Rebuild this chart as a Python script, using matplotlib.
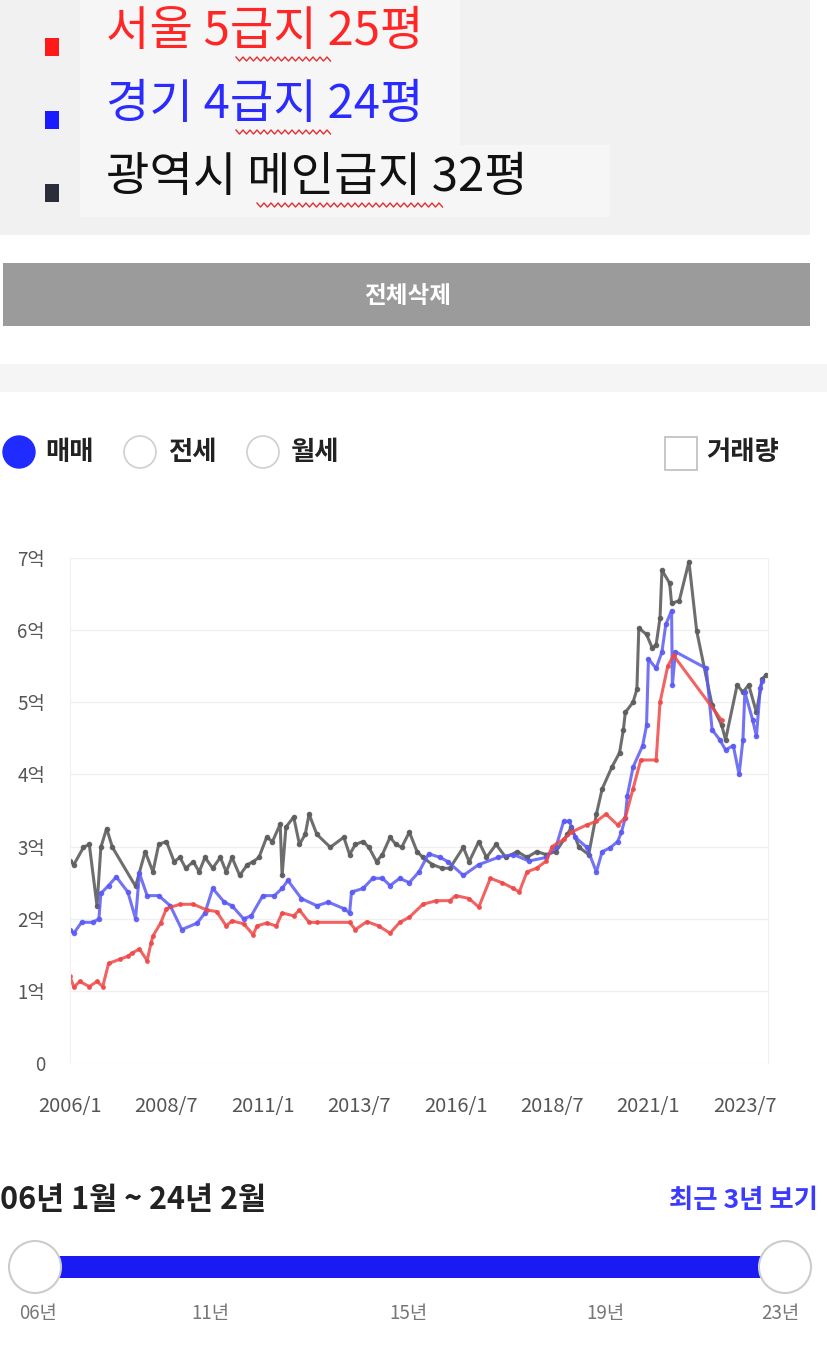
import numpy as np
import matplotlib
matplotlib.use("Agg")
import matplotlib.pyplot as plt
from matplotlib.patches import Rectangle, Circle

plt.rcParams['font.family'] = ['Noto Sans CJK KR', 'DejaVu Sans']

W, H = 827, 1360

# 서울 5급지 25평 (억)
seoul_t = [2006.0, 2006.1, 2006.25, 2006.5, 2006.7, 2006.85, 2007.0, 2007.3,
           2007.5, 2007.6, 2007.8, 2008.0, 2008.1, 2008.15, 2008.35, 2008.5,
           2008.85, 2009.2, 2009.55, 2009.8, 2010.05, 2010.2, 2010.5, 2010.75,
           2010.85, 2011.1, 2011.35, 2011.5, 2011.8, 2011.95, 2012.2, 2012.4,
           2013.25, 2013.4, 2013.7, 2014.0, 2014.3, 2014.55, 2014.8, 2015.15,
           2015.5, 2015.85, 2016.0, 2016.35, 2016.6, 2016.9, 2017.2, 2017.5,
           2017.65, 2017.85, 2018.1, 2018.35, 2018.5, 2018.8, 2019.0, 2019.4,
           2019.65, 2019.9, 2020.2, 2020.4, 2020.6, 2020.8, 2021.2, 2021.3,
           2021.5, 2021.65, 2022.9]
seoul_v = [1.2, 1.05, 1.13, 1.06, 1.13, 1.06, 1.38, 1.44,
           1.48, 1.52, 1.58, 1.42, 1.66, 1.76, 1.94, 2.14,
           2.2, 2.2, 2.12, 2.1, 1.9, 1.97, 1.93, 1.78,
           1.9, 1.94, 1.9, 2.08, 2.04, 2.12, 1.95, 1.95,
           1.95, 1.85, 1.96, 1.9, 1.8, 1.95, 2.02, 2.2,
           2.25, 2.25, 2.32, 2.28, 2.16, 2.56, 2.5, 2.42,
           2.37, 2.65, 2.7, 2.8, 3.0, 3.1, 3.2, 3.3,
           3.35, 3.45, 3.3, 3.4, 3.8, 4.2, 4.2, 5.0,
           5.5, 5.65, 4.75]

# 경기 4급지 24평 (억)
gyeonggi_t = [2006.0, 2006.1, 2006.3, 2006.6, 2006.75, 2006.8, 2007.0, 2007.2,
              2007.5, 2007.7, 2007.8, 2008.0, 2008.3, 2008.6, 2008.9, 2009.3,
              2009.5, 2009.7, 2010.0, 2010.2, 2010.5, 2010.7, 2011.0, 2011.3,
              2011.5, 2011.65, 2012.0, 2012.4, 2012.7, 2013.1, 2013.25, 2013.3,
              2013.6, 2013.85, 2014.1, 2014.3, 2014.55, 2014.8, 2015.05, 2015.3,
              2015.6, 2015.8, 2016.2, 2016.6, 2017.1, 2017.5, 2017.9, 2018.35,
              2018.6, 2018.8, 2018.95, 2019.1, 2019.4, 2019.65, 2019.8, 2020.0,
              2020.2, 2020.3, 2020.4, 2020.45, 2020.6, 2020.85, 2020.95, 2021.0,
              2021.2, 2021.35, 2021.45, 2021.6, 2021.62, 2021.7, 2022.5, 2022.65,
              2022.85, 2023.0, 2023.2, 2023.35, 2023.45, 2023.5, 2023.7, 2023.8,
              2023.9, 2023.95]
gyeonggi_v = [1.85, 1.8, 1.95, 1.95, 2.0, 2.35, 2.46, 2.58,
              2.37, 2.0, 2.63, 2.32, 2.32, 2.18, 1.85, 1.94,
              2.08, 2.42, 2.23, 2.18, 2.0, 2.04, 2.32, 2.32,
              2.42, 2.53, 2.28, 2.18, 2.23, 2.14, 2.08, 2.37,
              2.42, 2.56, 2.56, 2.46, 2.56, 2.5, 2.65, 2.9,
              2.85, 2.79, 2.6, 2.75, 2.85, 2.89, 2.8, 2.85,
              2.99, 3.35, 3.35, 3.13, 2.99, 2.65, 2.93, 2.98,
              3.07, 3.2, 3.4, 3.7, 4.1, 4.4, 4.68, 5.6,
              5.47, 5.7, 6.08, 6.27, 5.24, 5.7, 5.47, 4.62,
              4.48, 4.34, 4.4, 4.0, 4.48, 5.14, 4.76, 4.53,
              5.2, 5.3]

# 광역시 메인급지 32평 (억)
metro_t = [2006.0, 2006.1, 2006.35, 2006.5, 2006.7, 2006.8, 2006.95, 2007.1,
           2007.7, 2007.95, 2008.15, 2008.3, 2008.5, 2008.7, 2008.85, 2009.0,
           2009.2, 2009.35, 2009.5, 2009.7, 2009.9, 2010.05, 2010.2, 2010.4,
           2010.6, 2010.75, 2010.9, 2011.1, 2011.25, 2011.45, 2011.5, 2011.6,
           2011.8, 2011.95, 2012.1, 2012.2, 2012.4, 2012.75, 2013.1, 2013.25,
           2013.4, 2013.6, 2013.75, 2013.95, 2014.1, 2014.3, 2014.45, 2014.6,
           2014.8, 2015.0, 2015.15, 2015.4, 2015.65, 2015.85, 2016.2, 2016.35,
           2016.6, 2016.8, 2017.05, 2017.3, 2017.6, 2017.85, 2018.1, 2018.35,
           2018.6, 2018.9, 2019.0, 2019.2, 2019.45, 2019.65, 2019.8, 2020.05,
           2020.25, 2020.35, 2020.4, 2020.6, 2020.7, 2020.75, 2020.95, 2021.1,
           2021.2, 2021.3, 2021.35, 2021.55, 2021.6, 2021.8, 2022.05, 2022.25,
           2022.65, 2022.9, 2023.0, 2023.3, 2023.45, 2023.6, 2023.8, 2023.95,
           2024.05]
metro_v = [2.8, 2.75, 2.99, 3.03, 2.18, 2.99, 3.25, 2.99,
           2.45, 2.93, 2.65, 3.03, 3.07, 2.79, 2.85, 2.7,
           2.79, 2.65, 2.85, 2.7, 2.85, 2.65, 2.85, 2.6,
           2.75, 2.79, 2.85, 3.13, 3.07, 3.31, 2.6, 3.27,
           3.41, 3.03, 3.17, 3.45, 3.17, 2.99, 3.13, 2.89,
           3.03, 3.07, 2.99, 2.79, 2.89, 3.13, 3.03, 2.99,
           3.2, 2.93, 2.85, 2.75, 2.7, 2.7, 2.99, 2.79,
           3.07, 2.85, 3.03, 2.85, 2.93, 2.85, 2.93, 2.89,
           2.93, 3.17, 3.27, 2.99, 2.89, 3.45, 3.8, 4.1,
           4.3, 4.62, 4.86, 5.0, 5.18, 6.03, 5.94, 5.75,
           5.8, 6.17, 6.83, 6.65, 6.37, 6.41, 6.95, 5.99,
           4.96, 4.68, 4.48, 5.24, 5.14, 5.24, 4.86, 5.32,
           5.38]

legend_labels = ["서울 5급지 25평", "경기 4급지 24평", "광역시 메인급지 32평"]
x_tick_pos = [2006.0, 2008.5, 2011.0, 2013.5, 2016.0, 2018.5, 2021.0, 2023.5]
x_tick_labels = ["2006/1", "2008/7", "2011/1", "2013/7", "2016/1", "2018/7", "2021/1", "2023/7"]
y_tick_pos = [0, 1, 2, 3, 4, 5, 6, 7]
y_tick_labels = ["0", "1억", "2억", "3억", "4억", "5억", "6억", "7억"]
slider_labels = ["06년", "11년", "15년", "19년", "23년"]
slider_label_x = [38, 210, 408, 605, 780]

fig = plt.figure(figsize=(W / 100, H / 100), dpi=100)

# page background drawn in pixel coordinates
bg = fig.add_axes([0, 0, 1, 1])
bg.set_xlim(0, W)
bg.set_ylim(H, 0)
bg.axis("off")

# selected-items panel
bg.add_patch(Rectangle((0, 0), 810, 235, color="#f1f1f1", lw=0))
bg.add_patch(Rectangle((80, 0), 380, 145, color="#f6f6f6", lw=0))
bg.add_patch(Rectangle((80, 145), 530, 72, color="#f6f6f6", lw=0))

text_colors = ["#ff2626", "#2b2bff", "#111111"]
square_colors = ["#ff1a1a", "#1a1aff", "#2b2d3a"]
row_y = [32, 105, 178]
squiggle_x = [(236, 330), (236, 330), (257, 442)]
for label, tc, sc, y, (sx0, sx1) in zip(legend_labels, text_colors, square_colors, row_y, squiggle_x):
    bg.add_patch(Rectangle((45, y + 6), 14, 18, color=sc, lw=0))
    bg.text(106, y, label, color=tc, fontsize=34, va="center", ha="left")
    # spell-check squiggle
    xs = np.arange(sx0, sx1 + 1, 3.5)
    ys = y + 27 + np.where(np.arange(len(xs)) % 2 == 0, -2, 2)
    bg.plot(xs, ys, color="#e23030", lw=1.0)

# delete-all button
bg.add_patch(Rectangle((3, 263), 807, 63, color="#9b9b9b", lw=0))
bg.text(408, 296, "전체삭제", color="white", fontsize=17, fontweight="bold",
        ha="center", va="center")

bg.add_patch(Rectangle((0, 364), W, 28, color="#f5f5f5", lw=0))

# radio buttons / checkbox
bg.add_patch(Circle((19, 452), 16, fc="#1f2bff", ec="#1f2bff"))
bg.text(45, 452, "매매", fontsize=19, fontweight="bold", color="#222", va="center")
for cx, lab in [(140, "전세"), (263, "월세")]:
    bg.add_patch(Circle((cx, 452), 16, fc="white", ec="#cfcfcf", lw=1.2))
    bg.text(cx + 28, 452, lab, fontsize=19, fontweight="bold", color="#222", va="center")
bg.add_patch(Rectangle((665, 437), 32, 33, fc="white", ec="#bdbdbd", lw=1.2))
bg.text(706, 453, "거래량", fontsize=19, fontweight="bold", color="#222", va="center")

# price chart
ax = fig.add_axes([70 / W, (H - 1063) / H, 698 / W, 505 / H])
ax.set_facecolor("none")
ax.plot(metro_t, metro_v, color="#5e5e5e", lw=2.2, marker="o", ms=3, alpha=0.9)
ax.plot(gyeonggi_t, gyeonggi_v, color="#5a5af5", lw=2.2, marker="o", ms=3, alpha=0.85)
ax.plot(seoul_t, seoul_v, color="#f04848", lw=2.2, marker="o", ms=2.5, alpha=0.85)

ax.set_xlim(2006.0, 2024.1)
ax.set_ylim(0, 7)
ax.set_yticks(y_tick_pos)
ax.set_yticklabels(y_tick_labels)
ax.set_xticks(x_tick_pos)
ax.set_xticklabels(x_tick_labels)
ax.tick_params(length=0, colors="#555555")
ax.tick_params(axis="y", pad=18, labelsize=13.5)
ax.tick_params(axis="x", pad=24, labelsize=14.5)
ax.grid(True, axis="y", color="#f0f0f0", lw=1)
ax.set_axisbelow(True)
for side in ["top", "bottom"]:
    ax.spines[side].set_visible(False)
for side in ["left", "right"]:
    ax.spines[side].set_color("#f0f0f0")

# period slider
bg.text(0, 1200, "06년 1월 ~ 24년 2월", fontsize=22, fontweight="bold",
        color="#222", ha="left", va="center")
bg.text(818, 1200, "최근 3년 보기", fontsize=19, fontweight="bold",
        color="#3b3bff", ha="right", va="center")
bg.add_patch(Rectangle((35, 1256), 750, 22, color="#1a1af2", lw=0))
for cx in [35, 785]:
    bg.add_patch(Circle((cx, 1267), 26, fc="white", ec="#cccccc", lw=1.5))
for lx, lab in zip(slider_label_x, slider_labels):
    bg.text(lx, 1314, lab, fontsize=13.5, color="#777777", ha="center", va="center")

fig.savefig("out.png", dpi=100)
